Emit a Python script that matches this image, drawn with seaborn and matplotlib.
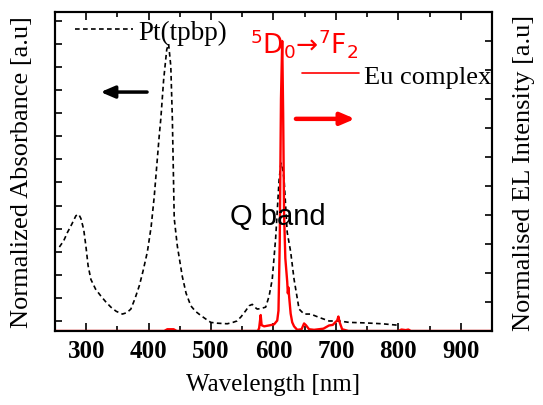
import numpy as np
import pandas as pd
import matplotlib
matplotlib.use("Agg")
import matplotlib.pyplot as plt
from matplotlib.ticker import MultipleLocator, NullFormatter
from matplotlib.lines import Line2D
import seaborn as sns

# Pt(tpbp) absorption spectrum (normalised)
abs_wavelength = [257, 264, 270, 277, 283.5, 288, 291.5, 296, 299.5, 303, 307.5, 315, 323.5,
                  331, 339.5, 348, 358, 365, 371.5, 378, 385, 391, 398, 404, 409, 413,
                  417, 419.5, 424, 429, 432, 435.5, 438, 441, 446, 454, 460, 467.5,
                  475, 483.5, 491, 499.5, 510, 526, 535, 541.5, 548, 555.5, 561, 566,
                  570, 574, 580, 587.5, 593, 598, 603.5, 609, 612, 614, 617, 622,
                  627.5, 633, 641, 649, 659.5, 673, 689, 705, 721, 747.5, 774, 798, 800]
abs_value = [0.267, 0.29, 0.32, 0.35, 0.38, 0.385, 0.37, 0.33, 0.27, 0.2, 0.15, 0.115, 0.09,
             0.07, 0.05, 0.035, 0.025, 0.03, 0.043, 0.08, 0.127, 0.18, 0.25, 0.34, 0.45, 0.56,
             0.67, 0.73, 0.87, 0.98, 1.0, 0.92, 0.73, 0.37, 0.27, 0.16, 0.1, 0.055,
             0.035, 0.02, 0.008, -0.005, -0.008, -0.01, -0.005, 0.0, 0.015, 0.037, 0.055, 0.06,
             0.05, 0.043, 0.045, 0.05, 0.09, 0.15, 0.3, 0.51, 0.57, 0.56, 0.51, 0.32,
             0.25, 0.15, 0.043, 0.025, 0.025, 0.013, 0.0, 0.0, -0.005, -0.007, -0.01, -0.015, -0.015]

# Eu complex electroluminescence spectrum (normalised)
el_wavelength = [250, 400, 425, 430, 440, 445, 575, 577, 579.5, 581, 585, 595, 601, 606,
                 608, 610, 612, 614, 615.5, 617, 619, 622, 623, 624, 625, 627.5, 630,
                 633, 638, 645, 649, 652, 657, 665, 680, 689, 695, 699, 702, 704, 706,
                 710, 720, 800, 805, 812, 816, 820, 950]
el_value = [0, 0, 0, 0.006, 0.006, 0, 0, 0.01, 0.055, 0.02, 0.016, 0.02, 0.023, 0.036,
            0.07, 0.3, 0.8, 1.0, 0.75, 0.4, 0.25, 0.17, 0.13, 0.15, 0.12, 0.06, 0.03,
            0.016, 0.004, 0.006, 0.026, 0.02, 0.006, 0.004, 0.008, 0.019, 0.021, 0.03, 0.036, 0.05, 0.03,
            0.006, 0, 0, 0.005, 0.003, 0.005, 0, 0]

xtick_values = [300, 400, 500, 600, 700, 800, 900]

sns.set_theme(style="ticks")
plt.rcParams["font.family"] = ["Liberation Serif", "DejaVu Serif"]
plt.rcParams["mathtext.fontset"] = "custom"
plt.rcParams["mathtext.rm"] = "Liberation Sans"
plt.rcParams["mathtext.it"] = "Liberation Sans:italic"
plt.rcParams["mathtext.bf"] = "Liberation Sans:bold"
for key in ("text.color", "axes.labelcolor", "xtick.color", "ytick.color", "axes.edgecolor"):
    plt.rcParams[key] = "black"

abs_df = pd.DataFrame({"wavelength": abs_wavelength, "absorbance": abs_value})
el_df = pd.DataFrame({"wavelength": el_wavelength, "intensity": el_value})

fig = plt.figure(figsize=(5.43, 4.06), dpi=100)
ax = fig.add_axes([0.1013, 0.1823, 0.8047, 0.7857])
ax2 = ax.twinx()

sns.lineplot(data=abs_df, x="wavelength", y="absorbance", ax=ax, color="black",
             linewidth=1.2, linestyle=(0, (2.8, 2.0)), sort=False)
sns.lineplot(data=el_df, x="wavelength", y="intensity", ax=ax2, color="#ff0000",
             linewidth=1.7, sort=False)

ax.set_xlim(250, 950)
ax.set_ylim(-10 / 277, 309 / 277)
ax2.set_ylim(0, 1.1)

ax.set_xticks(xtick_values)
ax.xaxis.set_minor_locator(MultipleLocator(50))
ax.yaxis.set_major_locator(MultipleLocator(1 / 12))
ax.yaxis.set_major_formatter(NullFormatter())
ax2.yaxis.set_major_locator(MultipleLocator(0.1))
ax2.yaxis.set_major_formatter(NullFormatter())

ax.tick_params(axis="x", which="both", direction="in", top=True, bottom=True,
               labelsize=18, pad=6, width=1.2, color="black", labelcolor="black")
ax.tick_params(axis="x", which="major", length=6)
ax.tick_params(axis="x", which="minor", length=3.5)
ax.tick_params(axis="y", direction="in", left=True, right=False, length=5, width=1.2)
ax2.tick_params(axis="y", direction="in", right=True, left=False, length=5, width=1.2)
for lbl in ax.get_xticklabels():
    lbl.set_fontweight("bold")

for a in (ax, ax2):
    for sp in a.spines.values():
        sp.set_visible(True)
        sp.set_color("black")
        sp.set_linewidth(1.5)

ax.set_xlabel("Wavelength [nm]", fontsize=18, labelpad=8)
ax.set_ylabel("Normalized Absorbance [a.u]", fontsize=19, labelpad=12)
ax2.set_ylabel("Normalised EL Intensity [a.u]", fontsize=19, labelpad=12)

leg1 = ax.legend(handles=[Line2D([], [], color="black", linewidth=1.2, linestyle=(0, (2.8, 2.0)))],
                 labels=["Pt(tpbp)"], loc="center left", bbox_to_anchor=(0.046, 0.937),
                 frameon=False, fontsize=19.5, borderpad=0, borderaxespad=0,
                 handlelength=2.15, handletextpad=0.2)
leg2 = ax2.legend(handles=[Line2D([], [], color="#ff0000", linewidth=1.2)],
                  labels=["Eu complex"], loc="center left", bbox_to_anchor=(0.565, 0.80),
                  frameon=False, fontsize=19, borderpad=0, borderaxespad=0,
                  handlelength=2.15, handletextpad=0.2)

ax2.text(0.447, 0.905, r"$\mathregular{^{5}D_{0}}$→$\mathregular{^{7}F_{2}}$",
         transform=ax2.transAxes, color="#ff0000", fontsize=19,
         family="DejaVu Sans", ha="left", va="center")
ax2.text(0.40, 0.36, "Q band", transform=ax2.transAxes, color="black", fontsize=21,
         family=["Liberation Sans", "DejaVu Sans"], ha="left", va="center")

ax.annotate("", xy=(0.098, 0.749), xytext=(0.217, 0.749), xycoords="axes fraction",
            arrowprops=dict(arrowstyle="-|>,head_length=0.7,head_width=0.3",
                            color="black", lw=2.5))
ax2.annotate("", xy=(0.693, 0.665), xytext=(0.545, 0.665), xycoords="axes fraction",
             arrowprops=dict(arrowstyle="-|>,head_length=0.7,head_width=0.3",
                             color="#ff0000", lw=3.2))

fig.savefig("out.png", dpi=100)
